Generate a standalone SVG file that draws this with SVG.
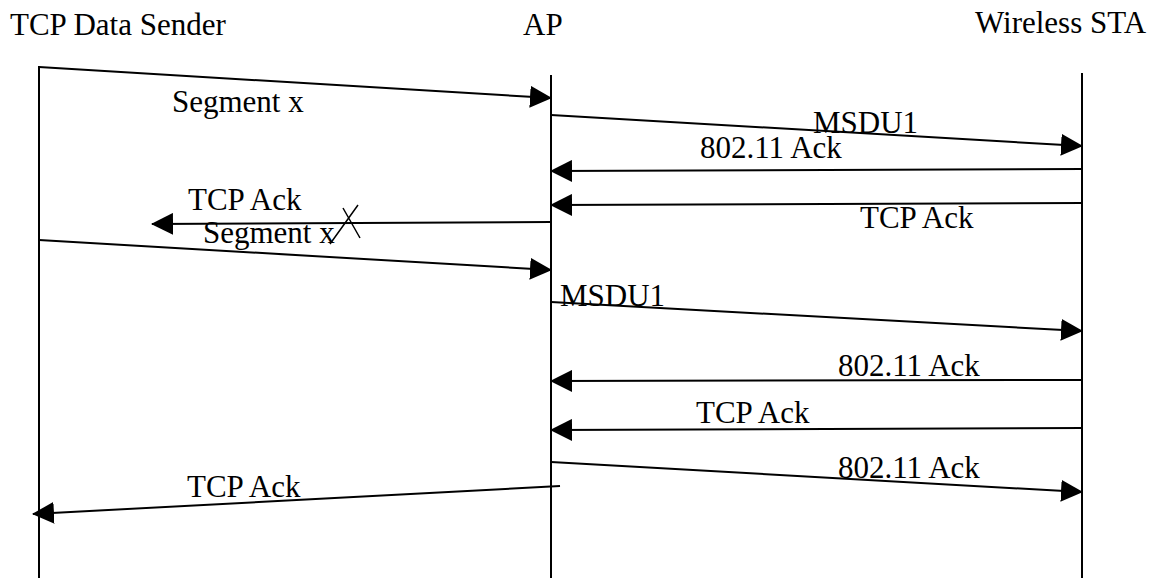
<svg xmlns="http://www.w3.org/2000/svg" width="1167" height="580" viewBox="0 0 1167 580">
<style>
text{font-family:"Liberation Serif","Times New Roman",serif;font-size:31px;fill:#000}
.life{stroke:#000;stroke-width:2;fill:none}
.msg{stroke:#000;stroke-width:2;fill:none;marker-end:url(#ah)}
.x{stroke:#000;stroke-width:1.5;fill:none}
</style>
<defs>
<marker id="ah" markerUnits="userSpaceOnUse" markerWidth="22" markerHeight="22" viewBox="0 0 22 22" refX="21" refY="11" orient="auto">
<path d="M0,0 L22,11 L0,22 z" fill="#000"/>
</marker>
</defs>
<rect width="1167" height="580" fill="#fff"/>
<g id="sender">
<text x="10" y="35">TCP Data Sender</text>
<line class="life" x1="39" y1="66" x2="39" y2="578"/>
</g>
<g id="ap">
<text x="523" y="35">AP</text>
<line class="life" x1="551" y1="75" x2="551" y2="578"/>
</g>
<g id="sta">
<text x="975" y="33">Wireless STA</text>
<line class="life" x1="1082" y1="73" x2="1082" y2="578"/>
</g>
<g id="connectors">
<line class="msg" x1="39" y1="67" x2="551" y2="98"/>
<text x="172" y="112">Segment x</text>
<line class="msg" x1="551" y1="115" x2="1082" y2="146"/>
<text x="813" y="133">MSDU1</text>
<line class="msg" x1="1082" y1="169" x2="551" y2="171"/>
<text x="700" y="158">802.11 Ack</text>
<line class="msg" x1="1082" y1="203" x2="551" y2="205"/>
<text x="860" y="228">TCP Ack</text>
<line class="msg" x1="551" y1="222" x2="152" y2="224"/>
<text x="188" y="210">TCP Ack</text>
<path class="x" d="M330,244 L358,205 M343,208 L360,238"/>
<line class="msg" x1="39" y1="240" x2="551" y2="270"/>
<text x="203" y="243">Segment x</text>
<line class="msg" x1="551" y1="302" x2="1082" y2="331"/>
<text x="560" y="306">MSDU1</text>
<line class="msg" x1="1082" y1="380" x2="551" y2="381"/>
<text x="838" y="376">802.11 Ack</text>
<line class="msg" x1="1082" y1="428" x2="551" y2="430"/>
<text x="696" y="423">TCP Ack</text>
<line class="msg" x1="551" y1="462" x2="1082" y2="492"/>
<text x="838" y="478">802.11 Ack</text>
<line class="msg" x1="560" y1="486" x2="33" y2="514"/>
<text x="187" y="497">TCP Ack</text>
</g>
</svg>
